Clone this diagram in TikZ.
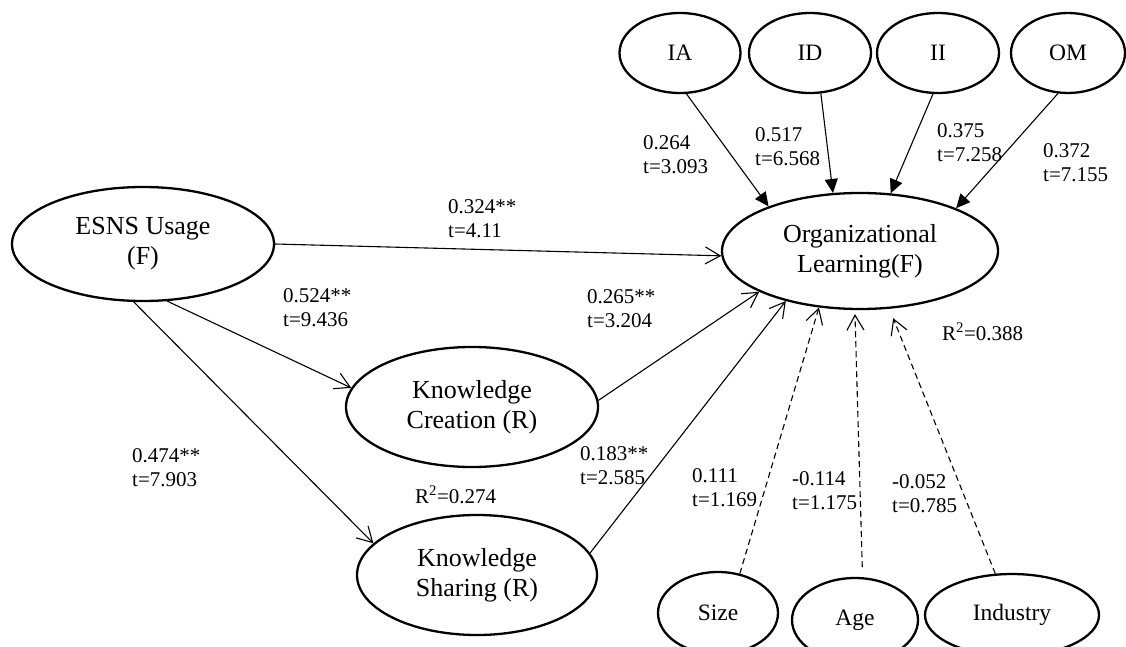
\documentclass[tikz,border=0pt]{standalone}
\usepackage{fontspec}
\setmainfont{Liberation Serif}
\usetikzlibrary{shapes.geometric,arrows.meta}
\tikzset{
  lat/.style={ellipse, draw, line width=2.3pt, inner sep=0pt, align=center, font=\fontsize{26}{30}\selectfont},
  sm/.style={ellipse, draw, line width=2.3pt, inner sep=0pt, font=\fontsize{23.5}{27}\selectfont},
  lbl/.style={align=left, inner sep=0pt, anchor=base west, font=\fontsize{21}{24}\selectfont},
  pth/.style={line width=1.1pt, -{Straight Barb[length=15pt,width=17pt]}},
  fpth/.style={line width=1.1pt, -{Triangle[length=14pt,width=13pt]}},
  dpth/.style={pth, dash pattern=on 6pt off 4pt},
}
\begin{document}
\begin{tikzpicture}[x=1pt,y=-1pt]
\useasboundingbox (0,0) rectangle (1126,647);
% latent constructs
\node[lat, minimum width=262pt, minimum height=114pt] (esns) at (143,244) {ESNS Usage\\(F)};
\node[lat, minimum width=276pt, minimum height=116pt] (ol) at (860,251) {Organizational\\Learning(F)};
\node[lat, minimum width=252pt, minimum height=120pt] (kc) at (472,407) {Knowledge\\Creation (R)};
\node[lat, minimum width=240pt, minimum height=120pt] (ks) at (477,575) {Knowledge\\Sharing (R)};
% dimensions
\node[sm, minimum width=121pt, minimum height=80pt] (ia) at (680,53) {IA};
\node[sm, minimum width=122pt, minimum height=80pt] (id) at (810,53) {ID};
\node[sm, minimum width=122pt, minimum height=80pt] (ii) at (938,53) {II};
\node[sm, minimum width=114pt, minimum height=80pt] (om) at (1068,53) {OM};
% controls
\node[sm, minimum width=120pt, minimum height=82pt] (size) at (718,613) {Size};
\node[sm, minimum width=126pt, minimum height=84pt] (age) at (855,620) {Age};
\node[sm, minimum width=174pt, minimum height=82pt] (ind) at (1012,615) {Industry};
% paths
\draw[pth] (esns.east) -- (ol.182);
\draw[pth] (esns.293) -- (kc.171.5);
\draw[pth] (esns.261) -- (ks.163.6);
\draw[pth] (kc.3) -- (ol.202);
\draw[pth] (ks.11) -- (ol.214);
\draw[fpth] (ia.279.5) -- (ol.154.7);
\draw[fpth] (id.285) -- (ol.115.4);
\draw[fpth] (ii.263) -- (ol.62.6);
\draw[fpth] (om.256.6) -- (ol.24.7);
\draw[dpth] (size.61.8) -- (ol.234.5);
\draw[dpth, shorten <=10pt, shorten >=4pt] (age.80) -- (ol.265.4);
\draw[dpth, shorten >=10pt] (ind.112) -- (ol.297.9);
% labels (base = baseline of the last line)
\node[lbl] (l1) at (643,174) {0.264\\t=3.093};
\node[lbl] (l2) at (755,166) {0.517\\t=6.568};
\node[lbl] (l3) at (937,162) {0.375\\t=7.258};
\node[lbl] (l4) at (1043,182) {0.372\\t=7.155};
\node[lbl] (l5) at (448,237) {0.324**\\t=4.11};
\node[lbl] (l6) at (283,326) {0.524**\\t=9.436};
\node[lbl] (l7) at (587,327) {0.265**\\t=3.204};
\node[lbl] (l8) at (132,486) {0.474**\\t=7.903};
\node[lbl] (l9) at (415,503) {R\textsuperscript{2}=0.274};
\node[lbl] (l10) at (580,484) {0.183**\\t=2.585};
\node[lbl] (l11) at (692,506) {0.111\\t=1.169};
\node[lbl] (l12) at (792,509) {-0.114\\t=1.175};
\node[lbl] (l13) at (892,512) {-0.052\\t=0.785};
\node[lbl] (l14) at (942,340) {R\textsuperscript{2}=0.388};
\end{tikzpicture}
\end{document}
